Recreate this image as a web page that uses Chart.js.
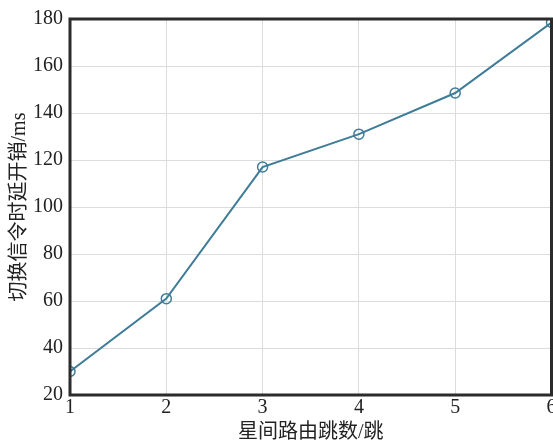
<!DOCTYPE html>
<html>
<head>
<meta charset="utf-8">
<script src="https://cdn.jsdelivr.net/npm/chart.js@4/dist/chart.umd.min.js"></script>
<style>
  html, body { margin: 0; padding: 0; background: #fff; overflow: hidden; }
  /* a bit wider than the window so the plot runs up to the right edge, as in the figure */
  #wrap { width: 558px; height: 445px; }
</style>
</head>
<body>
<div id="wrap"><canvas id="hopChart"></canvas></div>
<script>
// data
const hops = [1, 2, 3, 4, 5, 6];
const delayMs = [30, 61, 117, 131, 148.5, 178.5];
const yTicks = [20, 40, 60, 80, 100, 120, 140, 160, 180];
const xTitle = '星间路由跳数/跳';
const yTitle = '切换信令时延开销/ms';

const fontFamily = "'Liberation Serif', 'Times New Roman', 'Noto Sans CJK SC', serif";

// dark frame round the plot area
const framePlugin = {
    id: 'frame',
    afterDraw(chart) {
        const a = chart.chartArea;
        const ctx = chart.ctx;
        ctx.save();
        ctx.strokeStyle = '#2b2b2b';
        ctx.lineWidth = 3;
        ctx.strokeRect(a.left, a.top, a.right - a.left, a.bottom - a.top);
        ctx.restore();
    }
};

document.addEventListener('DOMContentLoaded', function() {
    const ctx = document.getElementById('hopChart');
    new Chart(ctx, {
        type: 'line',
        data: {
            datasets: [{
                data: hops.map((h, i) => ({ x: h, y: delayMs[i] })),
                borderColor: 'rgb(62, 124, 152)',
                borderWidth: 2,
                pointRadius: 5,
                pointBorderWidth: 1.5,
                pointBorderColor: 'rgb(62, 124, 152)',
                pointBackgroundColor: 'rgba(0,0,0,0)',
                tension: 0
            }]
        },
        options: {
            responsive: true,
            maintainAspectRatio: false,
            animation: false,
            layout: { padding: { left: 8, right: 0, top: 16, bottom: 0 } },
            plugins: {
                legend: { display: false },
                tooltip: { enabled: false }
            },
            scales: {
                x: {
                    type: 'linear',
                    min: 1,
                    max: 6,
                    ticks: {
                        stepSize: 1,
                        padding: 1,
                        color: '#222',
                        font: { family: fontFamily, size: 20 }
                    },
                    grid: { color: '#dcdcdc', lineWidth: 1, tickLength: 0 },
                    border: { display: false },
                    title: {
                        display: true,
                        text: xTitle,
                        color: '#222',
                        padding: { top: 0, bottom: 0 },
                        font: { family: fontFamily, size: 20 }
                    }
                },
                y: {
                    min: 20,
                    max: 180,
                    afterBuildTicks: function(scale) {
                        scale.ticks = yTicks.map(v => ({ value: v }));
                    },
                    // pull the title closer to the tick labels
                    afterFit: function(scale) {
                        scale.width -= 8;
                    },
                    ticks: {
                        padding: 7,
                        color: '#222',
                        font: { family: fontFamily, size: 20 }
                    },
                    grid: { color: '#dcdcdc', lineWidth: 1, tickLength: 0 },
                    border: { display: false },
                    title: {
                        display: true,
                        text: yTitle,
                        color: '#222',
                        padding: { top: 0, bottom: 2 },
                        font: { family: fontFamily, size: 20 }
                    }
                }
            }
        },
        plugins: [framePlugin]
    });
});
</script>
</body>
</html>
